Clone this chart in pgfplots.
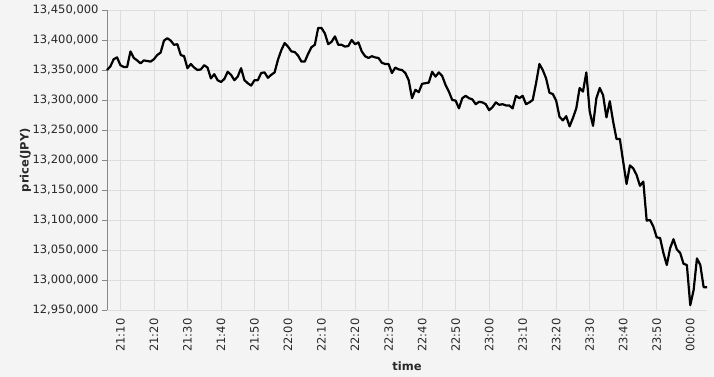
\documentclass[border=0pt]{standalone}
\usepackage{pgfplots}
\pgfplotsset{compat=1.18}
\usepackage{fontspec}
\setmainfont{DejaVu Sans}
\definecolor{bgcol}{RGB}{244,244,244}
\definecolor{gridcol}{RGB}{221,221,221}
\definecolor{domcol}{RGB}{136,136,136}
\definecolor{labcol}{RGB}{40,40,40}
\begin{document}
\begin{tikzpicture}
\path[use as bounding box, fill=bgcol] (-107pt,-67pt) rectangle (607pt,310pt);
\begin{axis}[
  scale only axis, width=600pt, height=300pt,
  xmin=6, xmax=185, ymin=12950000, ymax=13450000,
  axis lines=left, axis line style={-},
  x axis line style={draw=none},
  y axis line style={draw=domcol, line width=0.8pt},
  grid=major, grid style={draw=gridcol, line width=0.8pt},
  tick align=outside, major tick length=5pt,
  xtick style={draw=none},
  ytick style={draw=domcol, line width=0.8pt},
  xtick={10,20,30,40,50,60,70,80,90,100,110,120,130,140,150,160,170,180},
  xticklabels={21:10,21:20,21:30,21:40,21:50,22:00,22:10,22:20,22:30,22:40,22:50,23:00,23:10,23:20,23:30,23:40,23:50,00:00},
  ytick={12950000,13000000,13050000,13100000,13150000,13200000,13250000,13300000,13350000,13400000,13450000},
  scaled y ticks=false,
  /pgf/number format/assume math mode=true,
  yticklabel style={/pgf/number format/.cd, fixed, precision=0, 1000 sep={,}},
  ticklabel style={font=\fontsize{11.5}{13}\selectfont, text=labcol},
  xticklabel style={rotate=90, anchor=east},
  xlabel={\textbf{time}},
  ylabel={\textbf{price(JPY)}},
  label style={font=\fontsize{11.5}{13}\selectfont, text=labcol},
  xlabel style={at={(axis description cs:0.5,-0.1867)}, anchor=center},
  ylabel style={at={(axis description cs:-0.136,0.5)}, anchor=center},
  clip=false,
]
\addplot[black, line width=2.2pt, line join=round, mark=none] coordinates {
(6,13350000)(7,13356000)(8,13368000)(9,13371000)(10,13358000)(11,13355000)(12,13355000)(13,13381000)(14,13370000)(15,13366000)
(16,13361000)(17,13366000)(18,13365000)(19,13364000)(20,13368000)(21,13375000)(22,13379000)(23,13399000)(24,13403000)(25,13399000)
(26,13392000)(27,13393000)(28,13375000)(29,13373000)(30,13353000)(31,13360000)(32,13354000)(33,13350000)(34,13351000)(35,13358000)
(36,13354000)(37,13336000)(38,13343000)(39,13333000)(40,13330000)(41,13335000)(42,13347000)(43,13342000)(44,13333000)(45,13339000)
(46,13353000)(47,13333000)(48,13328000)(49,13324000)(50,13333000)(51,13333000)(52,13345000)(53,13346000)(54,13337000)(55,13342000)
(56,13346000)(57,13367000)(58,13383000)(59,13395000)(60,13389000)(61,13381000)(62,13380000)(63,13374000)(64,13364000)(65,13364000)
(66,13377000)(67,13388000)(68,13392000)(69,13420000)(70,13420000)(71,13411000)(72,13393000)(73,13397000)(74,13406000)(75,13392000)
(76,13392000)(77,13389000)(78,13390000)(79,13400000)(80,13393000)(81,13396000)(82,13381000)(83,13373000)(84,13370000)(85,13373000)
(86,13371000)(87,13370000)(88,13362000)(89,13360000)(90,13360000)(91,13345000)(92,13354000)(93,13351000)(94,13350000)(95,13345000)
(96,13333000)(97,13303000)(98,13317000)(99,13313000)(100,13327000)(101,13328000)(102,13329000)(103,13347000)(104,13339000)(105,13346000)
(106,13340000)(107,13325000)(108,13314000)(109,13300000)(110,13299000)(111,13286000)(112,13303000)(113,13307000)(114,13303000)(115,13301000)
(116,13293000)(117,13297000)(118,13296000)(119,13293000)(120,13283000)(121,13288000)(122,13296000)(123,13292000)(124,13293000)(125,13291000)
(126,13291000)(127,13286000)(128,13307000)(129,13303000)(130,13307000)(131,13293000)(132,13296000)(133,13300000)(134,13328000)(135,13360000)
(136,13350000)(137,13336000)(138,13312000)(139,13310000)(140,13299000)(141,13272000)(142,13266000)(143,13273000)(144,13256000)(145,13270000)
(146,13286000)(147,13320000)(148,13314000)(149,13346000)(150,13281000)(151,13257000)(152,13303000)(153,13320000)(154,13308000)(155,13271000)
(156,13298000)(157,13264000)(158,13235000)(159,13235000)(160,13197000)(161,13160000)(162,13191000)(163,13186000)(164,13175000)(165,13157000)
(166,13164000)(167,13099000)(168,13100000)(169,13089000)(170,13071000)(171,13070000)(172,13045000)(173,13025000)(174,13053000)(175,13068000)
(176,13051000)(177,13045000)(178,13027000)(179,13025000)(180,12958000)(181,12983000)(182,13036000)(183,13025000)(184,12988000)(185,12988000)
};
\end{axis}
\end{tikzpicture}
\end{document}
